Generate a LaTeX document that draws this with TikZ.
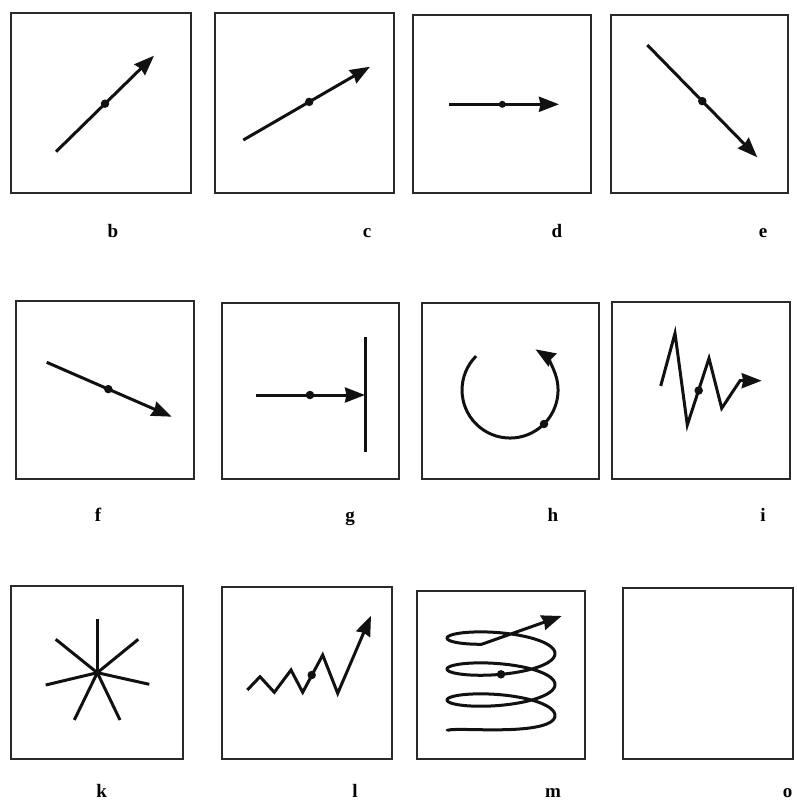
\documentclass[tikz,border=0pt]{standalone}
\usepackage{fontspec}
\setmainfont{Liberation Serif}
\usepackage{tikz}
\usetikzlibrary{arrows.meta,calc}
\definecolor{Ink}{HTML}{111111}
\definecolor{Frame}{HTML}{2A2A2A}
\tikzset{panel/.style={draw=Frame,line width=1.8pt},stroke/.style={line width=3pt,draw=Ink},vec/.style={stroke,-{Stealth[length=20pt,width=15pt,inset=1.5pt]}},pivot/.style={circle,fill=Ink,minimum size=8.5pt,inner sep=0pt},tag/.style={font=\bfseries\fontsize{19}{19}\selectfont,anchor=base,inner sep=0pt}}
\begin{document}
\begin{tikzpicture}[x=1pt,y=-1pt]
  \useasboundingbox (0,0) rectangle (797,803);
  % frames, row by row
  \draw[panel](10.7,13.3)rectangle(190.7,193.3);\draw[panel](215,13.3)rectangle(394.3,193.3);
  \draw[panel](413.3,15)rectangle(591,193.3);\draw[panel](610.7,15)rectangle(788.3,193.3);
  \draw[panel](15.7,301)rectangle(194.3,479);\draw[panel](222.3,302.7)rectangle(399,479);
  \draw[panel](422.3,302.7)rectangle(599,479);\draw[panel](612.3,301.7)rectangle(790,479);
  \draw[panel](10.7,585.7)rectangle(183.3,759);\draw[panel](222.3,587.3)rectangle(392.3,759);
  \draw[panel](416.7,591)rectangle(585,759);\draw[panel](622.7,588.3)rectangle(793.3,759);
  % straight vectors
  \coordinate(b0)at(56,151.7);\coordinate(b1)at(154,55.7);
  \coordinate(c0)at(243.3,140);\coordinate(c1)at(370,66.7);
  \coordinate(d0)at(449.3,104.3);\coordinate(d1)at(559,104.3);
  \coordinate(e0)at(647.3,45);\coordinate(e1)at(757.3,157.3);
  \coordinate(f0)at(46.7,362.3);\coordinate(f1)at(171.7,416.7);
  \coordinate(g0)at(256,395);\coordinate(g1)at(365,395);
  \draw[vec](b0)--(b1);\draw[vec](c0)--(c1);\draw[vec](d0)--(d1);
  \draw[vec](e0)--(e1);\draw[vec](f0)--(f1);\draw[vec](g0)--(g1);
  \node[pivot](bdot)at($(b0)!.5!(b1)$){};\node[pivot](cdot)at($(c0)!.52!(c1)$){};
  \node[pivot,minimum size=7pt](ddot)at($(d0)!.483!(d1)$){};\node[pivot](edot)at($(e0)!.5!(e1)$){};
  \node[pivot](fdot)at($(f0)!.493!(f1)$){};\node[pivot](gdot)at($(g0)!.495!(g1)$){};
  % wall in g
  \coordinate(gtop)at(365,337.3);\coordinate(gbot)at(365,452.3);
  \draw[stroke](gtop)--(gbot);
  % circling arrow
  \coordinate(hs)at(476.1,356.1);
  \draw[vec](hs)arc[start angle=225,end angle=-58,radius=48];
  \node[pivot](hdot)at(544,424){};
  % zigzags
  \draw[vec](660.7,386)--(675,333.3)--(687.3,425)--(709,358.3)--(721.7,408.3)--(740,380.7)--(761.7,380.7);
  \node[pivot](idot)at(698.7,390.5){};
  \draw[vec](247.3,690)--(260,676.7)--(274.3,692.3)--(291,670)--(302.7,692.3)--(322.7,655)--(337.7,693.3)--(371,615.7);
  \node[pivot](ldot)at(311.7,675){};
  % star
  \coordinate(kc)at(97.3,672.7);
  \foreach \p in {(97.3,619.3),(55.7,639.3),(138.3,639.3),(45.7,685),(149.3,684.3),(74.3,720),(120,720)}
    \draw[stroke](kc)--\p;
  % coil
  \coordinate(mtip)at(561.7,616);
  \draw[vec,line join=round]plot[domain=180:1329,samples=320,smooth]({501+54*cos(\x)},{746.5-0.08604*\x-13*min(1,(\x-180)/180)*sin(\x)})--(mtip);
  \node[pivot](mdot)at(501,674.3){};
  % letters
  \node[tag](lb)at(113,237){b};\node[tag](lc)at(367,237){c};\node[tag](ld)at(557,237){d};\node[tag](le)at(763,237){e};
  \node[tag](lf)at(98,521){f};\node[tag](lg)at(350,521){g};\node[tag](lh)at(553,521){h};\node[tag](li)at(763,521){i};
  \node[tag](lk)at(101.7,797){k};\node[tag](ll)at(355,797){l};\node[tag](lm)at(553,797){m};\node[tag](lo)at(787.7,797){o};
\end{tikzpicture}
\end{document}
